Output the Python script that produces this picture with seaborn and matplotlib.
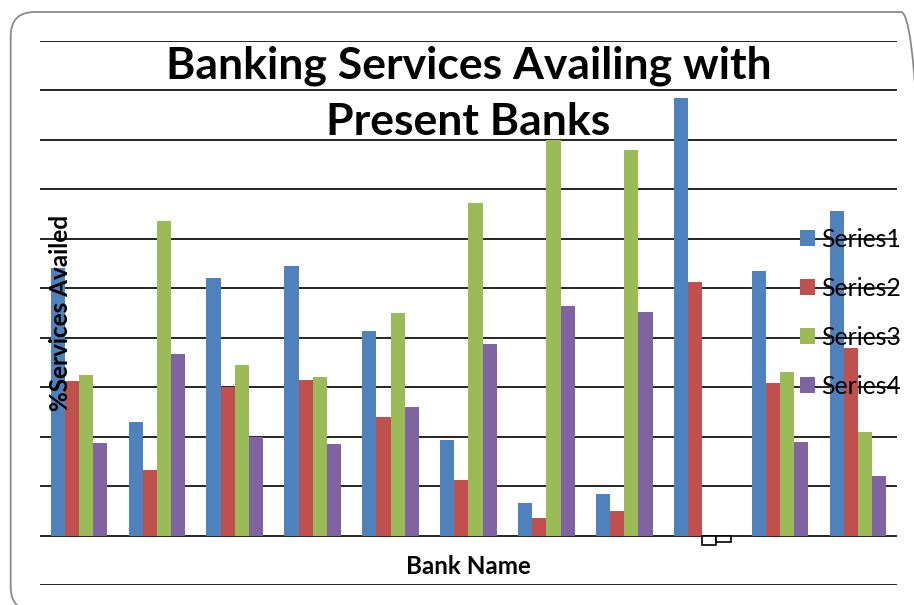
import matplotlib
matplotlib.use("Agg")
import matplotlib.pyplot as plt
import seaborn as sns
import pandas as pd
from matplotlib.patches import FancyBboxPatch

# ---- data (values in %) ----
banks = ["1", "2", "3", "4", "5", "6", "7", "8", "9", "10", "11"]
series_names = ["Series1", "Series2", "Series3", "Series4"]
series1 = [54.0, 22.9, 52.0, 54.5, 41.4, 19.4, 6.5, 8.4, 88.5, 53.5, 65.5]
series2 = [31.2, 13.2, 30.1, 31.5, 23.9, 11.2, 3.6, 4.9, 51.3, 30.9, 37.8]
series3 = [32.4, 63.6, 34.4, 32.0, 45.0, 67.1, 80.0, 78.0, -2.0, 33.0, 21.0]
series4 = [18.7, 36.7, 19.9, 18.4, 25.9, 38.8, 46.3, 45.1, -1.3, 19.0, 12.1]
colors = ["#4F81BD", "#C0504D", "#9BBB59", "#8064A2"]

title_line1 = "Banking Services Availing with"
title_line2 = "Present Banks"
xlabel = "Bank Name"
ylabel = "%Services Availed"

rows = []
for name, vals in zip(series_names, [series1, series2, series3, series4]):
    for b, v in zip(banks, vals):
        rows.append({"bank": b, "value": v, "series": name})
df = pd.DataFrame(rows)

sns.set_theme(style="white")
plt.rcParams["font.family"] = ["Lato", "DejaVu Sans"]

W, H = 914, 605
fig = plt.figure(figsize=(W / 100, H / 100), dpi=100)
ax = fig.add_axes([40 / W, 20 / H, (897 - 40) / W, (585 - 40.7) / H])

sns.barplot(data=df, x="bank", y="value", hue="series", order=banks,
            hue_order=series_names, palette=colors, saturation=1,
            width=0.727, edgecolor="none", linewidth=0, ax=ax, legend=True)

# negative values drawn as white boxes with black outline
for cont in ax.containers:
    for p in cont:
        if p.get_height() < 0:
            p.set_facecolor("white")
            p.set_edgecolor("black")
            p.set_linewidth(1.2)

ax.set_xlim(-0.5, len(banks) - 0.5)
ax.set_ylim(-10, 100)
ax.set_yticks(range(-10, 101, 10))
ax.yaxis.grid(True, color="black", linewidth=1.2)
ax.xaxis.grid(False)
ax.set_axisbelow(True)
ax.tick_params(axis="both", length=0, labelleft=False, labelbottom=False)
for s in ax.spines.values():
    s.set_visible(False)
ax.set_xlabel("")
ax.set_ylabel("")

# legend
old = ax.get_legend()
handles = old.legend_handles
labels = [t.get_text() for t in old.get_texts()]
old.remove()
leg = ax.legend(handles, labels, loc="center left",
                bbox_to_anchor=(800 / W, 1 - 313 / H), bbox_transform=fig.transFigure,
                frameon=False, fontsize=17.8, handlelength=0.61, handleheight=0.61,
                handletextpad=0.26, labelspacing=1.05, borderpad=0, borderaxespad=0)
for t in leg.get_texts():
    t.set_color("black")

# titles and labels
cx = (40 + 897) / 2 / W
fig.text(cx, 1 - 78 / H, title_line1, ha="center", va="baseline",
         fontsize=32, fontweight="bold", color="black")
fig.text(cx, 1 - 135 / H, title_line2, ha="center", va="baseline",
         fontsize=32, fontweight="bold", color="black")
fig.text(cx, 1 - 573.5 / H, xlabel, ha="center", va="baseline",
         fontsize=17.4, fontweight="bold", color="black")
fig.text(61 / W, 1 - 313 / H, ylabel, ha="center", va="center", rotation=90,
         fontsize=17.5, fontweight="bold", color="black")

# rounded outer border (extends past the right and bottom edges)
border = FancyBboxPatch((10.7, -6), 925 - 10.7, H - 12 + 6,
                        boxstyle="round,pad=0,rounding_size=24",
                        transform=None, facecolor="none", edgecolor="#8a8a8a",
                        linewidth=1.3, clip_on=False)
fig.add_artist(border)

fig.savefig("out.png", dpi=100)
